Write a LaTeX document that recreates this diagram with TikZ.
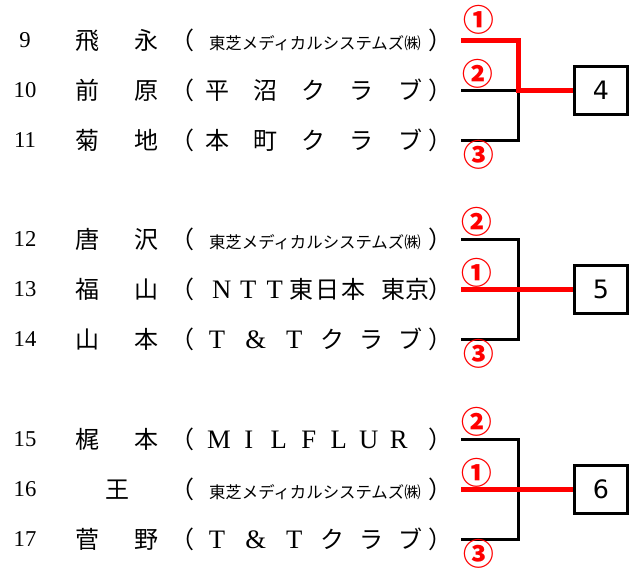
\documentclass[tikz,border=0pt]{standalone}
\usepackage{fontspec}
\newfontfamily\jpfont{Noto Sans CJK JP}
\newfontfamily\boxfont{DejaVu Sans}
\newfontfamily\latfont{Liberation Serif}
% latin letter set in a fixed cell
\newcommand\lat[2][1em]{\makebox[#1]{\latfont\fontsize{20}{20}\selectfont #2}}
% team text spread between the brackets
\newcommand\spread[1]{\makebox[9.75em][s]{\hspace{0.45em}#1\hspace{0.25em}}}
\newcommand\toshiba{（\makebox[9.75em]{\hspace{0.3em}\fontsize{12.3}{12}\selectfont 東芝メディカルシステムズ㈱}）}
\tikzset{
	seed/.style={font=\latfont\fontsize{17}{17}\selectfont, anchor=base, inner sep=0pt},
	entry/.style={font=\jpfont\fontsize{18}{18}\selectfont, inner sep=0pt},
	place/.style={font=\jpfont\bfseries\fontsize{23}{23}\selectfont, text=red, inner sep=0pt},
	result/.style={draw, line width=2.25pt, minimum width=40pt, minimum height=36pt,
		font=\boxfont\fontsize{19}{19}\selectfont},
	loser/.style={line width=2.25pt, black},
	winner/.style={line width=3.75pt, red},
}
\begin{document}
\begin{tikzpicture}[x=0.75pt, y=-0.75pt]
	\useasboundingbox (0,0) rectangle (640,568);
	% entries: seed, name, team
	\foreach \y/\n/\name/\team in {
		40/9/飛\kern1.42em永/\toshiba,
		90/10/前\kern1.42em原/{（\spread{平\hfill 沼\hfill ク\hfill ラ\hfill ブ}）},
		140/11/菊\kern1.42em地/{（\spread{本\hfill 町\hfill ク\hfill ラ\hfill ブ}）},
		239/12/唐\kern1.42em沢/\toshiba,
		289/13/福\kern1.42em山/{（\makebox[9.75em][l]{\hspace{0.6em}\lat[1.1em]{N}\lat[1.1em]{T}\lat[1.1em]{T}\makebox[1.1em]{東}\makebox[1.1em]{日}\makebox[1.1em]{本}\hspace{0.6em}東京}）},
		339/14/山\kern1.42em本/{（\spread{\lat{T}\hfill\lat{\&}\hfill\lat{T}\hfill ク\hfill ラ\hfill ブ}）},
		439/15/梶\kern1.42em本/{（\makebox[9.75em][l]{\hspace{0.4em}\lat[1.25em]{M}\lat[1.25em]{I}\lat[1.25em]{L}\lat[1.25em]{F}\lat[1.25em]{L}\lat[1.25em]{U}\lat[1.25em]{R}}）},
		489/16/王/\toshiba,
		539/17/菅\kern1.42em野/{（\spread{\lat{T}\hfill\lat{\&}\hfill\lat{T}\hfill ク\hfill ラ\hfill ブ}）}} {
		\node[seed] (s\n) at (25,\y+7.5) {\n};
		\node[entry, anchor=base] (p\n) at (117,\y+9) {\name};
		\node[entry, anchor=base west] (t\n) at (170,\y+9) {\team};
		\coordinate (e\n) at (461,\y);
	}
	% junctions
	\coordinate (j1) at (518,90);
	\coordinate (j2) at (518,289);
	\coordinate (j3) at (518,489);
	% results
	\node[result] (b4) at (601,90) {4};
	\node[result] (b5) at (601,289) {5};
	\node[result] (b6) at (601,489) {6};
	% group 1
	\draw[loser] (e10) -- (j1) -- (j1 |- e11) -- (e11);
	\draw[winner] (e9) -- (j1 |- e9) -- (j1) -- (b4);
	% group 2
	\draw[loser] (e12) -- (j2 |- e12) -- (j2 |- e14) -- (e14);
	\draw[winner] (e13) -- (b5);
	% group 3
	\draw[loser] (e15) -- (j3 |- e15) -- (j3 |- e17) -- (e17);
	\draw[winner] (e16) -- (b6);
	% places
	\node[place] (m9) at (479,20) {①};
	\node[place] (m10) at (478,74) {②};
	\node[place] (m11) at (479,155) {③};
	\node[place] (m12) at (477,222) {②};
	\node[place] (m13) at (477,273) {①};
	\node[place] (m14) at (479,354) {③};
	\node[place] (m15) at (477,422) {②};
	\node[place] (m16) at (477,473) {①};
	\node[place] (m17) at (479,554) {③};
\end{tikzpicture}
\end{document}
